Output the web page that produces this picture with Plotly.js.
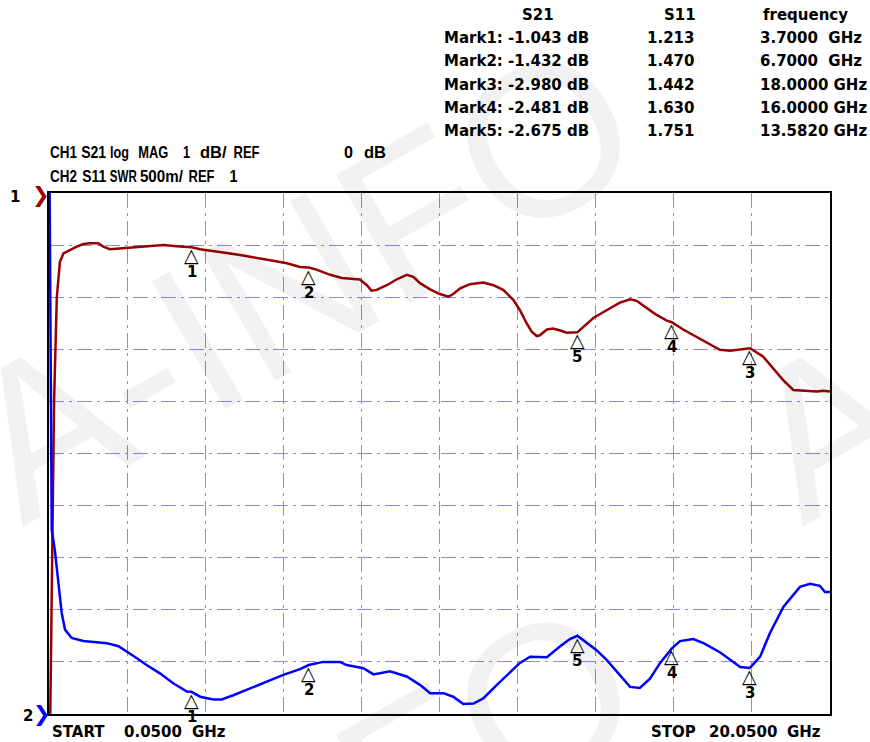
<!DOCTYPE html>
<html><head><meta charset="utf-8">
<script src="https://cdn.plot.ly/plotly-3.0.1.min.js"></script>
<style>html,body{margin:0;padding:0;background:#fff;}</style>
</head><body><div id="chart" style="width:870px;height:742px;"></div>
<script>
// ---- data ----
const s21Freq = [0.05,0.13,0.18,0.25,0.29,0.33,0.42,0.59,0.76,0.93,1.10,1.31,1.44,1.61,1.95,2.47,2.98,3.32,3.58,3.70,3.92,4.26,4.60,4.94,5.37,5.79,6.14,6.48,6.70,6.90,7.25,7.55,8.01,8.19,8.31,8.44,8.70,8.95,9.21,9.38,9.55,9.81,10.06,10.28,10.40,10.58,10.83,11.17,11.43,11.68,11.94,12.11,12.28,12.41,12.54,12.62,12.80,12.96,13.14,13.31,13.58,13.73,13.99,14.33,14.67,14.93,15.10,15.36,15.61,15.87,16.00,16.29,16.64,16.98,17.23,17.49,17.83,18.00,18.34,18.60,18.85,19.11,19.45,19.71,19.88,20.05];
const s21dB = [-12.0,-7.0,-4.0,-2.0,-1.61,-1.32,-1.16,-1.09,-1.03,-0.98,-0.965,-0.965,-1.03,-1.08,-1.06,-1.03,-1.00,-1.02,-1.04,-1.043,-1.08,-1.11,-1.15,-1.19,-1.24,-1.30,-1.35,-1.42,-1.432,-1.47,-1.57,-1.63,-1.66,-1.77,-1.875,-1.86,-1.77,-1.66,-1.57,-1.61,-1.73,-1.85,-1.94,-1.99,-1.94,-1.83,-1.75,-1.72,-1.77,-1.86,-2.05,-2.25,-2.50,-2.66,-2.745,-2.73,-2.62,-2.60,-2.64,-2.68,-2.675,-2.58,-2.40,-2.25,-2.105,-2.04,-2.07,-2.21,-2.34,-2.45,-2.481,-2.62,-2.76,-2.90,-3.01,-3.03,-3.00,-2.98,-3.14,-3.36,-3.59,-3.78,-3.795,-3.81,-3.795,-3.81];
const s11Freq = [0.05,0.12,0.20,0.29,0.375,0.46,0.63,0.93,1.18,1.53,1.83,2.04,2.30,2.55,2.89,3.23,3.58,3.70,3.92,4.26,4.47,4.77,5.20,5.63,6.05,6.48,6.70,7.07,7.50,7.67,8.10,8.36,8.78,9.21,9.55,9.81,10.15,10.40,10.66,10.92,11.17,11.52,11.86,12.11,12.37,12.80,13.14,13.39,13.58,13.82,14.08,14.33,14.67,14.93,15.18,15.44,15.70,16.00,16.21,16.55,16.81,17.24,17.75,18.00,18.26,18.51,18.86,19.11,19.28,19.54,19.79,19.92,20.05];
const s11SWR = [7.0,2.77,2.57,2.25,1.97,1.81,1.73,1.70,1.69,1.68,1.65,1.60,1.535,1.47,1.39,1.295,1.215,1.213,1.166,1.14,1.14,1.18,1.245,1.31,1.375,1.43,1.47,1.50,1.50,1.47,1.44,1.38,1.41,1.36,1.28,1.20,1.20,1.166,1.096,1.10,1.15,1.28,1.40,1.49,1.55,1.545,1.65,1.72,1.751,1.68,1.61,1.52,1.37,1.26,1.25,1.34,1.49,1.63,1.70,1.72,1.68,1.59,1.45,1.442,1.55,1.775,2.03,2.14,2.22,2.25,2.23,2.17,2.17];
const markerIds = [1,2,3,4,5];
const markerFreq = [3.7, 6.7, 18.0, 16.0, 13.582];
const markerS21 = [-1.043, -1.432, -2.980, -2.481, -2.675];
const markerS11 = [1.213, 1.470, 1.442, 1.630, 1.751];
const startFreq = 0.05, stopFreq = 20.05;
const ch1Ref = 0, ch1Scale = 1;       // dB, dB/div
const ch2Ref = 1, ch2Scale = 0.5;     // SWR, per div

// ---- layout helpers ----
const W = 870, H = 742, L = 49, R = 830, T = 193, B = 714;
function px(x){ return (x - L) / (R - L); }
function py(y){ return (B - y) / (B - T); }
const WIDE = 'DejaVu Sans, sans-serif';
const ARIAL = 'Liberation Sans, Arial, sans-serif';
const NB = '\u00A0';
const ann = [];
const squeeze = [];   // [annotation index, max width in px]
function txt(s, x, y, opt){
  opt = opt || {};
  ann.push({text: s, xref:'paper', yref:'paper', x: px(x), y: py(y),
    xanchor: opt.xa || 'left', yanchor: 'middle', showarrow: false,
    font: {family: opt.family || WIDE, size: opt.size || 15, color: opt.color || '#000', weight: opt.weight || 'bold'}});
}
// a text piece that spans [x0, x1] horizontally (narrow instrument font)
function piece(s, x0, x1, y){
  txt(s, (x0 + x1) / 2, y, {xa:'center', family: ARIAL, size: 16.5});
  squeeze.push([ann.length - 1, x1 - x0]);
}

// watermark
[[300,280],[1080,280],[300,840],[-480,840]].forEach(function(c){
  ann.push({text:'A-INFO', xref:'paper', yref:'paper', x:px(c[0]), y:py(c[1]), xanchor:'center', yanchor:'middle',
    showarrow:false, textangle:-30, font:{family:'Liberation Sans, sans-serif', size:215, color:'rgba(0,0,0,0.055)'}});
});

// marker table
txt('S21', 538, 15, {xa:'center'});
txt('S11', 680, 15, {xa:'center'});
txt('frequency', 805, 15, {xa:'center'});
for (let i = 0; i < markerIds.length; i++) {
  const y = 38 + 23.3 * i;
  txt('Mark' + markerIds[i] + ':' + NB + markerS21[i].toFixed(3) + NB + 'dB', 442, y);
  txt(markerS11[i].toFixed(3), 645, y);
  txt(markerFreq[i].toFixed(4) + (markerFreq[i] < 10 ? NB + NB : NB) + 'GHz', 758, y);
}

// channel lines
const r1 = 152.5, r2 = 176;
piece('CH1', 50, 77, r1); piece('S21', 81, 106, r1); piece('log', 110, 129, r1); piece('MAG', 138, 168, r1);
piece(String(ch1Scale), 183, 190, r1); piece('dB/', 200, 227, r1); piece('REF', 233, 259, r1);
piece(String(ch1Ref), 344, 353, r1); piece('dB', 363, 386, r1);
piece('CH2', 50, 77, r2); piece('S11', 82, 106, r2); piece('SWR', 110, 137, r2); piece((ch2Scale*1000) + 'm/', 140, 183, r2);
piece('REF', 188, 214, r2); piece(String(ch2Ref), 229, 237, r2);

// start / stop
txt('START', 50, 732); txt(startFreq.toFixed(4), 122, 732); txt('GHz', 190, 732);
txt('STOP', 649, 732); txt(stopFreq.toFixed(4), 707, 732); txt('GHz', 785, 732);

// reference indicators
txt('1', 15, 197, {xa:'center'});
txt('\u276F', 41, 195, {xa:'center', size:21, color:'#a00000', family:'DejaVu Sans, sans-serif', weight:'normal'});
txt('2', 28, 716, {xa:'center'});
txt('\u276F', 42, 714, {xa:'center', size:21, color:'#0000ff', family:'DejaVu Sans, sans-serif', weight:'normal'});

// marker triangles + numbers (from data)
for (let i = 0; i < markerIds.length; i++) {
  [['y', markerS21[i]], ['y2', markerS11[i]]].forEach(function(p){
    ann.push({text:'\u25B3', xref:'x', yref:p[0], x: markerFreq[i], y: p[1], xanchor:'center', yanchor:'middle',
      yshift: -8, showarrow:false, font:{family:'DejaVu Sans', size:19, color:'#000'}});
    ann.push({text: String(markerIds[i]), xref:'x', yref:p[0], x: markerFreq[i], y: p[1], xanchor:'center', yanchor:'middle',
      yshift: -25, showarrow:false, font:{family: WIDE, size:15, color:'#000', weight:'bold'}});
  });
}

const gridStyle = {color:'#8a8ae8', width:1, dash:'15px,5px,3px,5px'};
const data = [
  {x: s11Freq, y: s11SWR, yaxis:'y2', type:'scatter', mode:'lines', line:{color:'#0000ff', width:2.5}, hoverinfo:'skip'},
  {x: s21Freq, y: s21dB, type:'scatter', mode:'lines', line:{color:'#990000', width:2.5}, hoverinfo:'skip'}
];
const layout = {
  width: W, height: H, showlegend: false,
  margin: {l: L, r: W - R, t: T, b: H - B, pad: 0},
  paper_bgcolor: '#fff', plot_bgcolor: '#fff',
  xaxis: {range:[startFreq, stopFreq], tick0: startFreq, dtick: (stopFreq-startFreq)/10, showticklabels:false, ticks:'',
    showgrid:true, gridcolor: gridStyle.color, gridwidth: gridStyle.width, griddash: gridStyle.dash,
    zeroline:false, showline:true, mirror:true, linecolor:'#000', linewidth:2, fixedrange:true},
  yaxis: {range:[ch1Ref - 10*ch1Scale, ch1Ref], dtick: ch1Scale, showticklabels:false, ticks:'',
    showgrid:true, gridcolor: gridStyle.color, gridwidth: gridStyle.width, griddash: gridStyle.dash,
    zeroline:false, showline:true, mirror:true, linecolor:'#000', linewidth:2, fixedrange:true},
  yaxis2: {range:[ch2Ref, ch2Ref + 10*ch2Scale], overlaying:'y', side:'right', showgrid:false, showticklabels:false,
    ticks:'', zeroline:false, showline:false, fixedrange:true},
  annotations: ann
};
Plotly.newPlot('chart', data, layout, {displayModeBar:false, staticPlot:true}).then(function(gd){
  squeeze.forEach(function(s){
    const t = gd.querySelector('.annotation[data-index="' + s[0] + '"] text.annotation-text');
    if (t && t.getComputedTextLength() > s[1]) {
      t.setAttribute('textLength', s[1]); t.setAttribute('lengthAdjust', 'spacingAndGlyphs');
    }
  });
});
</script>
</body></html>
